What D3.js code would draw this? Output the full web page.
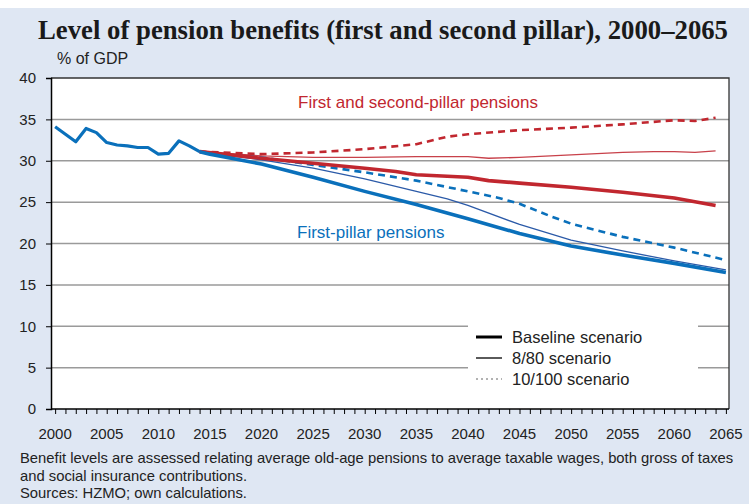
<!DOCTYPE html>
<html>
<head>
<meta charset="utf-8">
<script src="https://cdn.jsdelivr.net/npm/d3@7"></script>
<style>
  body { margin: 0; background: #fff; }
  svg { display: block; font-family: "Liberation Sans", Arial, sans-serif; }
</style>
</head>
<body>
<svg width="749" height="504"></svg>
<script>
// historical first-pillar level, 2000-2014
var histYears = [2000, 2001, 2002, 2003, 2004, 2005, 2006, 2007, 2008, 2009, 2010, 2011, 2012, 2013, 2014];
var histValues = [34.1, 33.2, 32.3, 33.9, 33.4, 32.2, 31.9, 31.8, 31.6, 31.6, 30.8, 30.9, 32.4, 31.8, 31.1];

// projections, [year, % of GDP]
var blueBaseline = [[2014, 31.1], [2015, 30.8], [2020, 29.6], [2025, 28.0], [2030, 26.3], [2035, 24.7], [2040, 23.0], [2045, 21.2], [2050, 19.7], [2055, 18.6], [2060, 17.6], [2065, 16.5]];
var blue880 = [[2014, 31.1], [2020, 30.1], [2025, 29.1], [2030, 27.8], [2035, 26.3], [2038, 25.4], [2040, 24.6], [2045, 22.3], [2050, 20.4], [2055, 19.1], [2060, 17.9], [2065, 16.8]];
var blue10100 = [[2014, 31.1], [2020, 30.4], [2025, 29.5], [2030, 28.6], [2035, 27.6], [2040, 26.3], [2043, 25.5], [2045, 24.8], [2048, 23.3], [2050, 22.4], [2055, 20.8], [2060, 19.5], [2065, 18.0]];
var redBaseline = [[2014, 31.1], [2020, 30.3], [2025, 29.7], [2030, 29.1], [2033, 28.7], [2035, 28.3], [2040, 28.0], [2042, 27.6], [2045, 27.3], [2050, 26.8], [2055, 26.2], [2060, 25.5], [2064, 24.6]];
var red880 = [[2014, 31.1], [2020, 30.6], [2025, 30.4], [2030, 30.4], [2035, 30.5], [2040, 30.5], [2042, 30.3], [2045, 30.4], [2050, 30.7], [2055, 31.0], [2058, 31.1], [2060, 31.1], [2062, 31.0], [2064, 31.2]];
var red10100 = [[2014, 31.1], [2020, 30.8], [2025, 31.0], [2030, 31.4], [2035, 32.0], [2038, 32.9], [2040, 33.2], [2045, 33.7], [2050, 34.0], [2055, 34.4], [2060, 34.9], [2062, 34.8], [2064, 35.2]];

var yTicks = [0, 5, 10, 15, 20, 25, 30, 35, 40];
var xLabels = [2000, 2005, 2010, 2015, 2020, 2025, 2030, 2035, 2040, 2045, 2050, 2055, 2060, 2065];
var legendLabels = ["Baseline scenario", "8/80 scenario", "10/100 scenario"];

var blue = "#0a70bb", red = "#c1272f";

var svg = d3.select("svg");

svg.append("rect").attr("width", 749).attr("height", 504).attr("fill", "#fff");
svg.append("rect").attr("y", 8).attr("width", 749).attr("height", 496).attr("fill", "#dfe7f3");

var pLeft = 51, pRight = 729, pTop = 78, pBottom = 409;

var x = d3.scaleLinear().domain([1999.6, 2065.3]).range([pLeft, pRight]);
var y = d3.scaleLinear().domain([0, 40]).range([pBottom, pTop]);

svg.append("text")
    .attr("x", 38).attr("y", 39)
    .attr("font-family", "'Liberation Serif', 'Times New Roman', serif")
    .attr("font-weight", "bold")
    .attr("font-size", "27px")
    .attr("textLength", 690)
    .attr("lengthAdjust", "spacingAndGlyphs")
    .attr("fill", "#1a1a1a")
    .text("Level of pension benefits (first and second pillar), 2000\u20132065");

svg.append("text")
    .attr("x", 57).attr("y", 64)
    .attr("font-size", "16px")
    .attr("fill", "#222")
    .text("% of GDP");

// plot area
svg.append("rect")
    .attr("x", pLeft).attr("y", pTop)
    .attr("width", pRight - pLeft).attr("height", pBottom - pTop)
    .attr("fill", "#fff");

// gridlines
svg.append("g")
    .selectAll("line")
    .data(yTicks.filter(function(d) { return d > 0 && d < 40; }))
    .enter().append("line")
    .attr("x1", pLeft).attr("x2", pRight)
    .attr("y1", function(d) { return y(d); })
    .attr("y2", function(d) { return y(d); })
    .attr("stroke", "#9a9a9a")
    .attr("stroke-width", 1.5);

// frame top/right
svg.append("path")
    .attr("d", "M" + pLeft + "," + pTop + "H" + pRight + "V" + pBottom)
    .attr("fill", "none")
    .attr("stroke", "#333")
    .attr("stroke-width", 1.3);

// legend box (sits over the gridlines)
var lg = svg.append("g");
lg.append("rect")
    .attr("x", 468).attr("y", 323)
    .attr("width", 230).attr("height", 72)
    .attr("fill", "#fff");

// y axis
var yAxis = svg.append("g")
    .attr("transform", "translate(" + pLeft + ",0)")
    .call(d3.axisLeft(y).tickValues(yTicks).tickSize(5).tickPadding(10));
yAxis.select(".domain").attr("stroke", "#000").attr("stroke-width", 1.5);
yAxis.selectAll(".tick line").attr("stroke", "#000");
yAxis.selectAll("text").attr("font-size", "15px").attr("fill", "#222")
    .attr("font-family", "'Liberation Sans', Arial, sans-serif");

// x axis
var xAxis = svg.append("g")
    .attr("transform", "translate(0," + pBottom + ")")
    .call(d3.axisBottom(x).tickValues(d3.range(2000, 2066)).tickSize(5).tickFormat(""));
xAxis.select(".domain").attr("stroke", "#000").attr("stroke-width", 1.5).attr("d", "M" + pLeft + ",0H" + pRight);
xAxis.selectAll(".tick line").attr("stroke", "#000");

svg.append("g")
    .selectAll("text")
    .data(xLabels)
    .enter().append("text")
    .attr("x", function(d) { return x(d); })
    .attr("y", 439)
    .attr("text-anchor", "middle")
    .attr("font-size", "15px")
    .attr("fill", "#222")
    .text(function(d) { return d; });

// lines
var line = d3.line()
    .x(function(d) { return x(d[0]); })
    .y(function(d) { return y(d[1]); });

var series = [
    { data: blue880, color: "#2b5aa8", width: 1.3, dash: null },
    { data: red880, color: "#c8414a", width: 1.3, dash: null },
    { data: blue10100, color: blue, width: 2.6, dash: "7,5" },
    { data: red10100, color: red, width: 2.6, dash: "7,5" },
    { data: redBaseline, color: red, width: 3.6, dash: null },
    { data: blueBaseline, color: blue, width: 3.6, dash: null },
    { data: d3.zip(histYears, histValues), color: blue, width: 3.2, dash: null }
];

svg.append("g")
    .selectAll("path")
    .data(series)
    .enter().append("path")
    .attr("d", function(d) { return line(d.data); })
    .attr("fill", "none")
    .attr("stroke", function(d) { return d.color; })
    .attr("stroke-width", function(d) { return d.width; })
    .attr("stroke-dasharray", function(d) { return d.dash; })
    .attr("stroke-linejoin", "round");

// annotations
svg.append("text")
    .attr("x", 298).attr("y", 108)
    .attr("font-size", "17px")
    .attr("fill", red)
    .text("First and second-pillar pensions");

svg.append("text")
    .attr("x", 297).attr("y", 238)
    .attr("font-size", "17px")
    .attr("fill", blue)
    .text("First-pillar pensions");

// legend entries
var legendStyles = [
    { width: 3, dash: null, color: "#000" },
    { width: 1.3, dash: null, color: "#000" },
    { width: 1.5, dash: "2,3", color: "#999" }
];

var items = lg.selectAll(".item")
    .data(legendLabels)
    .enter().append("g")
    .attr("class", "item")
    .attr("transform", function(d, i) { return "translate(0," + (337 + i * 21) + ")"; });

items.append("line")
    .attr("x1", 476).attr("x2", 502)
    .attr("stroke", function(d, i) { return legendStyles[i].color; })
    .attr("stroke-width", function(d, i) { return legendStyles[i].width; })
    .attr("stroke-dasharray", function(d, i) { return legendStyles[i].dash; });

items.append("text")
    .attr("x", 512).attr("y", 6)
    .attr("font-size", "16.5px")
    .attr("fill", "#222")
    .text(function(d) { return d; });

// footnote
var notes = [
    "Benefit levels are assessed relating average old-age pensions to average taxable wages, both gross of taxes",
    "and social insurance contributions.",
    "Sources: HZMO; own calculations."
];
svg.append("g")
    .selectAll("text")
    .data(notes)
    .enter().append("text")
    .attr("x", 20)
    .attr("y", function(d, i) { return 463 + i * 17.5; })
    .attr("font-size", "14.8px")
    .attr("fill", "#222")
    .text(function(d) { return d; });
</script>
</body>
</html>
